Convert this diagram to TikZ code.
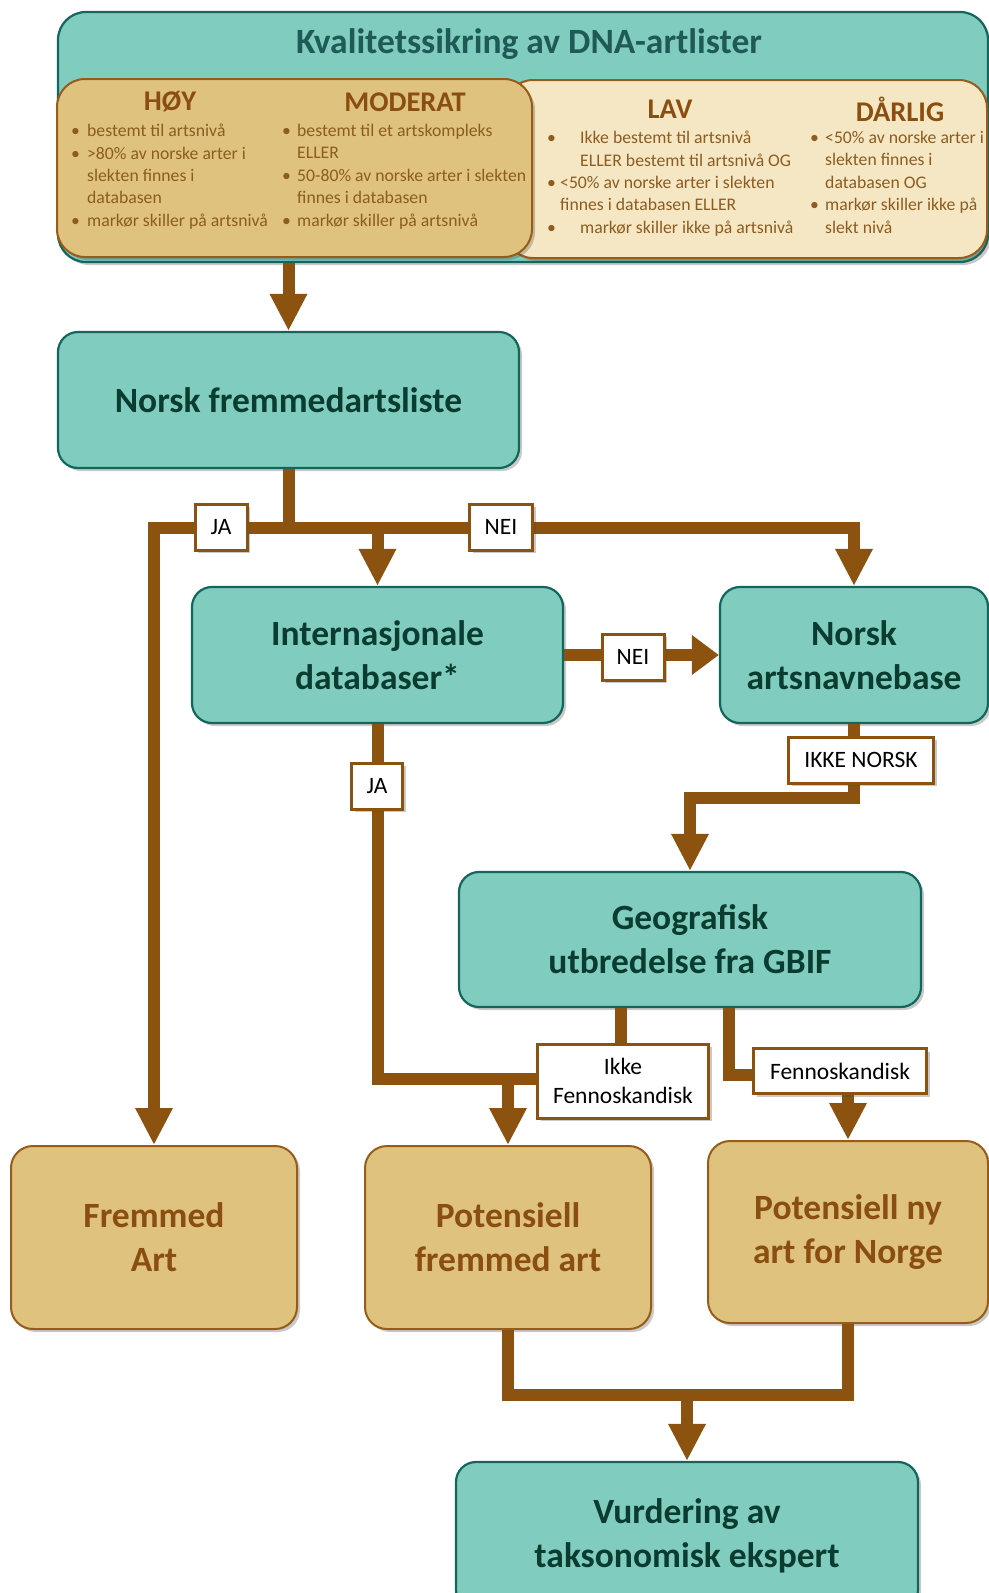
\documentclass[tikz,border=0pt]{standalone}
\usepackage{fontspec}
\setmainfont{Carlito}
\usetikzlibrary{arrows.meta,shadows,positioning}

\definecolor{tealfill}{RGB}{128,205,191}
\definecolor{tealline}{RGB}{20,102,92}
\definecolor{tealtext}{RGB}{10,60,48}
\definecolor{titletext}{RGB}{31,90,86}
\definecolor{tanfill}{RGB}{223,194,125}
\definecolor{tanline}{RGB}{150,92,24}
\definecolor{creamfill}{RGB}{246,231,196}
\definecolor{flowbrown}{RGB}{139,82,16}
\definecolor{browntext}{RGB}{138,78,16}
\definecolor{bullettext}{RGB}{140,92,32}

\tikzset{
  boxshadow/.style={drop shadow={shadow xshift=3pt,shadow yshift=-3pt,opacity=0.3,fill=black!70}},
  tealbox/.style={draw=tealline, line width=2.2pt, fill=tealfill, rounded corners=20pt, boxshadow,
    align=center, text=tealtext, font={\fontsize{35.5}{44}\selectfont\bfseries}},
  tanbox/.style={draw=tanline, line width=2pt, fill=tanfill, rounded corners=22pt, boxshadow,
    align=center, text=browntext, font={\fontsize{35.5}{44}\selectfont\bfseries}},
  answer/.style={draw=flowbrown, line width=3pt, fill=white, boxshadow, align=center,
    inner sep=0pt, font={\fontsize{23.5}{29}\selectfont}},
  flow/.style={draw=flowbrown, line width=12pt},
  flowarrow/.style={flow, -{Triangle[length=37pt,width=35pt]}},
  shortarrow/.style={flow, -{Triangle[length=27pt,width=38pt]}},
  grade/.style={text=browntext, font={\fontsize{28.5}{32}\selectfont\bfseries}},
  criteria/.style={text=bullettext, align=left, anchor=north west, inner sep=0pt,
    font={\fontsize{17.7}{22.4}\selectfont}},
}

\newcommand{\critbul}[1]{\makebox[#1][l]{\textbullet}}

\begin{document}
\begin{tikzpicture}[x=1pt,y=-1pt]
\useasboundingbox (0,0) rectangle (988,1593);

% Kvalitetssikring av DNA-artlister
\node[draw=tealline, line width=2.2pt, fill=tealfill, rounded corners=28pt, boxshadow,
  minimum width=930pt, minimum height=250pt] (kval) at (523,137) {};
\node[text=titletext, font={\fontsize{35.5}{40}\selectfont\bfseries}] (kvaltitle) at (529,44) {Kvalitetssikring av DNA-artlister};

% lav / daarlig
\node[draw=tanline, line width=2pt, fill=creamfill, rounded corners=28pt, boxshadow,
  minimum width=482pt, minimum height=178pt] (lowgrades) at (746,169) {};
% hoey / moderat
\node[draw=tanline, line width=2pt, fill=tanfill, rounded corners=28pt, boxshadow,
  minimum width=475pt, minimum height=178pt] (highgrades) at (294.5,168) {};

\node[grade] (hoy) at (170,102) {HØY};
\node[grade] (moderat) at (405,102) {MODERAT};
\node[grade] (lav) at (670,109) {LAV};
\node[grade] (darlig) at (900,109) {DÅRLIG};

\node[criteria] (hoycrit) at (71,124) {\critbul{16pt}bestemt til artsnivå\\
  \critbul{16pt}>80\% av norske arter i\\
  \hspace*{16pt}slekten finnes i\\
  \hspace*{16pt}databasen\\
  \critbul{16pt}markør skiller på artsnivå};
\node[criteria] (moderatcrit) at (282,124) {\critbul{15pt}bestemt til et artskompleks\\
  \hspace*{15pt}ELLER\\
  \critbul{15pt}50-80\% av norske arter i slekten\\
  \hspace*{15pt}finnes i databasen\\
  \critbul{15pt}markør skiller på artsnivå};
\node[criteria] (lavcrit) at (547,131) {\critbul{33pt}Ikke bestemt til artsnivå\\
  \hspace*{33pt}ELLER bestemt til artsnivå OG\\
  \critbul{13pt}<50\% av norske arter i slekten\\
  \hspace*{13pt}finnes i databasen ELLER\\
  \critbul{33pt}markør skiller ikke på artsnivå};
\node[criteria] (darligcrit) at (810,131) {\critbul{15pt}<50\% av norske arter i\\
  \hspace*{15pt}slekten finnes i\\
  \hspace*{15pt}databasen OG\\
  \critbul{15pt}markør skiller ikke på\\
  \hspace*{15pt}slekt nivå};

% steps
\node[tealbox, minimum width=461pt, minimum height=136pt] (fremliste) at (288.5,400) {Norsk fremmedartsliste};
\node[tealbox, minimum width=371pt, minimum height=136pt] (internasj) at (377.5,655) {Internasjonale\\databaser*};
\node[tealbox, minimum width=268pt, minimum height=136pt] (artsnavn) at (854,655) {Norsk\\artsnavnebase};
\node[tealbox, minimum width=462pt, minimum height=135pt] (geo) at (690,939.5) {Geografisk\\utbredelse fra GBIF};
\node[tealbox, minimum width=462pt, minimum height=148pt] (vurd) at (687,1536) {Vurdering av\\taksonomisk ekspert};

% outcomes
\node[tanbox, minimum width=286pt, minimum height=183pt] (fremmed) at (154,1237.5) {Fremmed\\Art};
\node[tanbox, minimum width=286pt, minimum height=183pt] (potfrem) at (508,1237.5) {Potensiell\\fremmed art};
\node[tanbox, minimum width=280pt, minimum height=182pt] (potny) at (848,1232) {Potensiell ny\\art for Norge};

% connectors
\coordinate (split) at (288.5,528);
\coordinate (ikkejoin) at (621,1079);
\coordinate (vurdjoin) at (687,1395);
\draw[flowarrow] (fremliste.north |- kval.south) -- (fremliste.north);
\draw[flow] (fremliste.south) -- (split);
\draw[flowarrow] (split) -| (fremmed.north);
\draw[flowarrow] (split) -| (artsnavn.north);
\draw[flowarrow] (internasj.north |- split) -- (internasj.north);
\draw[shortarrow] (internasj.east) -- (artsnavn.west);
\draw[flowarrow] (artsnavn.south) -- ++(0,74) -| (geo.north);
\draw[flow] (internasj.south) |- (ikkejoin);
\draw[flow] (geo.south -| ikkejoin) -- (ikkejoin);
\draw[flowarrow] (potfrem.north |- ikkejoin) -- (potfrem.north);
\draw[flowarrow] ([xshift=39pt]geo.south) -- ++(0,67) -| (potny.north);
\draw[flow] (potfrem.south) |- (vurdjoin) -| (potny.south);
\draw[flowarrow] (vurdjoin) -- (vurd.north);

% answers
\node[answer, minimum width=52pt, minimum height=46pt] (ja1) at (221,527) {JA};
\node[answer, minimum width=63pt, minimum height=46pt] (nei1) at (501,527) {NEI};
\node[answer, minimum width=62pt, minimum height=46pt] (nei2) at (633,657) {NEI};
\node[answer, minimum width=51pt, minimum height=46pt] (ja2) at (377,786) {JA};
\node[answer, minimum width=145pt, minimum height=46pt] (ikkenorsk) at (861,760) {IKKE NORSK};
\node[answer, minimum width=171pt, minimum height=74pt] (ikkefenno) at (623,1081) {Ikke\\Fennoskandisk};
\node[answer, minimum width=173pt, minimum height=45pt] (fenno) at (840,1071) {Fennoskandisk};
\end{tikzpicture}
\end{document}
